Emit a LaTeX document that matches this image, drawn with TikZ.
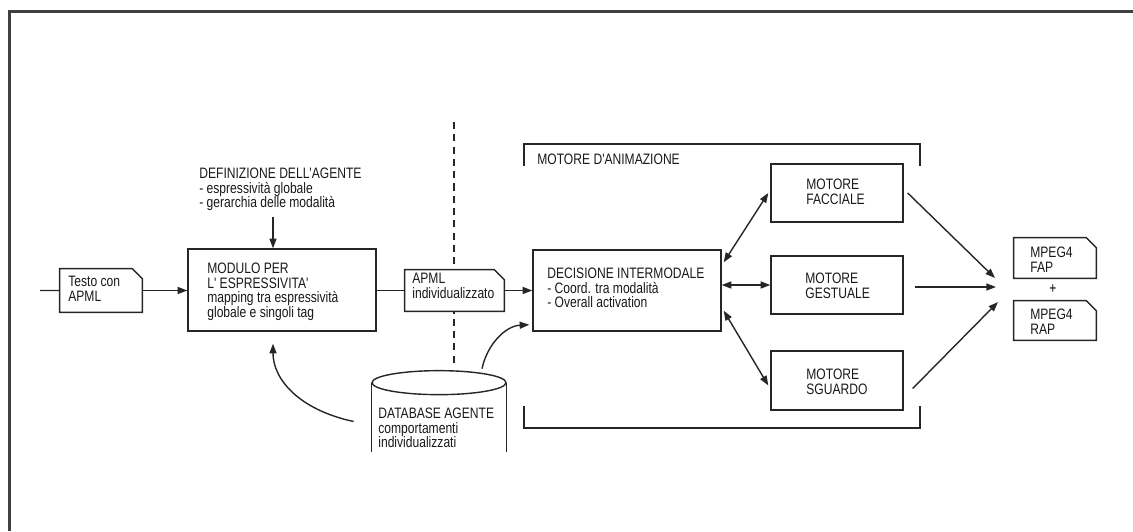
\documentclass[tikz,border=0pt]{standalone}
\usepackage{fontspec}
\newfontfamily\df{Liberation Sans}[FakeStretch=0.8]
\usetikzlibrary{arrows.meta,calc,fit}
\newcommand\mydocshape[1]{%
  \draw[line, fill=white] (#1.south west) -- (#1.north west) -- ($(#1.north east)+(-10,0)$) -- ($(#1.north east)+(0,10)$) -- (#1.south east) -- cycle;}
\begin{document}
\begin{tikzpicture}[x=0.02cm,y=-0.02cm,
  line/.style={draw=black!85, line width=0.8pt},
  arr/.style={line, -{Triangle[length=5.5pt,width=4pt]}},
  darr/.style={line, {Triangle[length=5.5pt,width=4pt]}-{Triangle[length=5.5pt,width=4pt]}},
  box/.style={line, fill=white, inner sep=0pt},
  area/.style={inner sep=0pt},
  txt/.style={font=\df\fontsize{8.6}{8.2}\selectfont, inner sep=0pt, anchor=north west, align=left, execute at begin node=\strut, text=black!90},
  frame/.style={draw=black!75, line width=1.2pt},
  dashline/.style={draw=black!85, line width=0.6pt, dash pattern=on 4pt off 3pt}]
\useasboundingbox (0,0) rectangle (1133,531);
% outer frame
\draw[frame] (9.5,531) -- (9.5,11.5) -- (1133,11.5);
% dashed separator
\draw[dashline] (454,122) -- (454,364);
% bracket of the animation engine
\draw[line] (524,166) -- (524,144) -- (920,144) -- (920,166);
\draw[line] (524,406) -- (524,428) -- (920,428) -- (920,406);
\node[txt] (anim) at (537,154) {MOTORE D'ANIMAZIONE};

% nodes
\node[area, fit={(60,269)(142,312)}] (testo) {};
\mydocshape{testo}
\node[txt] (testot) at (68,276) {Testo con\\APML};

\node[txt] (def) at (199,168) {DEFINIZIONE DELL'AGENTE\\- espressività globale\\- gerarchia delle modalità};
\coordinate (defa) at (273,217);

\node[box, fit={(188,249)(376,331)}] (mod) {};
\node[txt] (modt) at (207,263) {MODULO PER\\L' ESPRESSIVITA'\\mapping tra espressività\\globale e singoli tag};

\node[area, fit={(405,270)(504,311)}] (apml) {};
\mydocshape{apml}
\node[txt] (apmlt) at (412,273) {APML\\individualizzato};

\node[box, fit={(533,250)(721,331)}] (dec) {};
\node[txt] (dect) at (547,268) {DECISIONE INTERMODALE\\- Coord. tra modalità\\- Overall activation};

\node[box, fit={(771,164)(903,222)}] (fac) {};
\node[txt] (fact) at (806,179) {MOTORE\\FACCIALE};
\node[box, fit={(771,256)(903,314)}] (ges) {};
\node[txt] (gest) at (805,273) {MOTORE\\GESTUALE};
\node[box, fit={(771,351)(903,410)}] (sgu) {};
\node[txt] (sgut) at (806,369) {MOTORE\\SGUARDO};

\node[area, fit={(1014,238)(1096,278)}] (fap) {};
\mydocshape{fap}
\node[txt] (fapt) at (1030,247) {MPEG4\\FAP};
\node[font=\df\fontsize{8.6}{8.2}\selectfont, inner sep=0pt] (plus) at (1053,289) {+};
\node[area, fit={(1014,301)(1096,340)}] (rap) {};
\mydocshape{rap}
\node[txt] (rapt) at (1030,309) {MPEG4\\RAP};

% database cylinder (open at the bottom)
\node[area, fit={(372,371)(506,452)}] (db) {};
\draw[line] ($(db.north)+(0,12)$) ellipse [x radius=1.34cm, y radius=0.24cm];
\draw[line] ($(db.north west)+(0,12)$) -- (db.south west);
\draw[line] ($(db.north east)+(0,12)$) -- (db.south east);
\node[txt] (dbt) at (378,408) {DATABASE AGENTE\\comportamenti\\individualizzati};

% connectors
\coordinate (in) at (40,290.5);
\draw[line] (in) -- (testo.west);
\draw[arr] (testo.east) -- (testo.east -| mod.west);
\draw[arr] (defa) -- (defa |- mod.north);
\draw[line] (mod.east |- apml.west) -- (apml.west);
\draw[arr] (apml.east) -- (apml.east -| dec.west);
\draw[arr] ($(db.north)+(43,-2)$) .. controls (487,345) and (505,326) .. ($(dec.south west)+(-3,-7)$);
\draw[arr] ($(db.west)+(-18,10)$) .. controls (300,410) and (273,380) .. ($(mod.south)+(-9,12)$);

\draw[darr] ($(dec.north east)+(2,13)$) -- ($(fac.west)+(-2,0)$);
\draw[darr] (ges.west -| dec.east) -- (ges.west);
\draw[darr] ($(dec.south east)+(2,-21)$) -- ($(sgu.west)+(-2,5)$);

\coordinate (o1) at (995,278);
\coordinate (o2) at (996,287);
\coordinate (o3) at (998,302);
\draw[arr] ($(fac.east)+(4,0)$) -- (o1);
\draw[arr] ($(ges.east)+(11,2)$) -- (o2);
\draw[arr] ($(sgu.east)+(9,8)$) -- (o3);
\end{tikzpicture}
\end{document}
